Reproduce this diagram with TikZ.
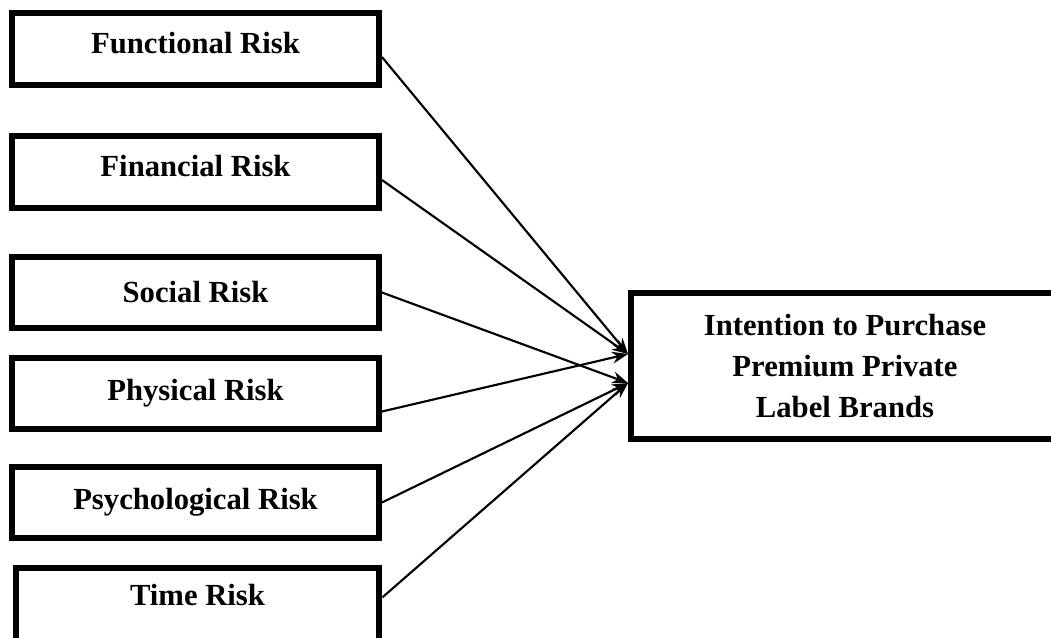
\documentclass[tikz,border=0pt]{standalone}
\usepackage{fontspec}
\setmainfont{Liberation Serif}
\usetikzlibrary{arrows.meta}
\begin{document}
\begin{tikzpicture}[>={Stealth[length=12pt,width=9pt]},x=0.75pt,y=-0.75pt,
  riskbox/.style={draw,line width=4.8pt,minimum width=274.9pt,minimum height=53.6pt,inner sep=0pt,font=\fontsize{23}{28}\selectfont\bfseries},
  link/.style={->,line width=1.6pt}]
\useasboundingbox (0,0) rectangle (1051,637);
\node[riskbox,text depth=9pt](func) at (195.5,49){Functional Risk};
\node[riskbox,text depth=9pt](fin) at (195.5,172){Financial Risk};
\node[riskbox](soc) at (195.5,292.5){Social Risk};
\node[riskbox](phys) at (195.5,393.5){Physical Risk};
\node[riskbox](psy) at (195.5,502.5){Psychological Risk};
\node[riskbox,minimum width=272.6pt,minimum height=60pt,text depth=19.5pt](time) at (197.5,608){Time Risk};
\node[riskbox,minimum width=321pt,minimum height=109.5pt,align=center,font=\fontsize{23}{31}\selectfont\bfseries](intent) at (845,366){Intention to Purchase\\Premium Private\\Label Brands};
\coordinate(t1) at (628,354);
\coordinate(t2) at (628,383);
\draw[link]([yshift=-6pt]func.east)--(t1);
\draw[link]([yshift=-6pt]fin.east)--(t1);
\draw[link](soc.east)--(t2);
\draw[link]([yshift=-13.5pt]phys.east)--(t1);
\draw[link](psy.east)--(t2);
\draw[link]([yshift=8pt]time.east)--(t2);
\end{tikzpicture}
\end{document}
